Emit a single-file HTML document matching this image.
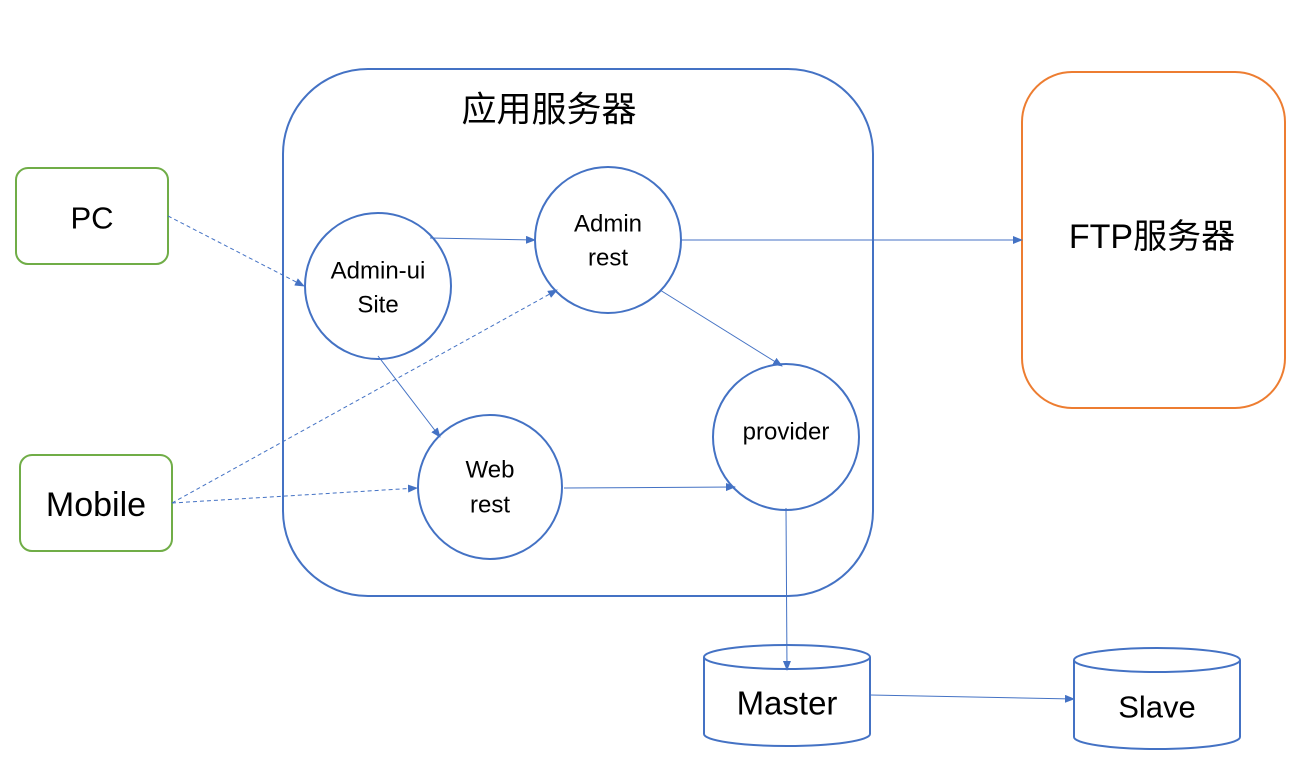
<!DOCTYPE html>
<html><head><meta charset="utf-8"><style>
html,body{margin:0;padding:0;background:#fff;}
svg{display:block;}
text{font-family:"Liberation Sans","Noto Sans CJK SC",sans-serif;fill:#000;text-anchor:middle;dominant-baseline:central;}
</style></head><body>
<svg width="1302" height="770" viewBox="0 0 1302 770" xmlns="http://www.w3.org/2000/svg">
<defs>
<marker id="a" markerWidth="10" markerHeight="8" refX="9" refY="4" orient="auto" markerUnits="userSpaceOnUse">
<path d="M0,0 L10,4 L0,8 z" fill="#4472C4"/></marker>
</defs>
<g fill="none" stroke-width="2">
<rect x="283" y="69" width="590" height="527" rx="85" stroke="#4472C4"/>
<rect x="1022" y="72" width="263" height="336" rx="50" stroke="#ED7D31"/>
<rect x="16" y="168" width="152" height="96" rx="12" stroke="#70AD47"/>
<rect x="20" y="455" width="152" height="96" rx="12" stroke="#70AD47"/>
<circle cx="378" cy="286" r="73" stroke="#4472C4"/>
<circle cx="608" cy="240" r="73" stroke="#4472C4"/>
<circle cx="490" cy="487" r="72" stroke="#4472C4"/>
<circle cx="786" cy="437" r="73" stroke="#4472C4"/>
<path d="M704,657 L704,734 A83,12 0 0 0 870,734 L870,657" stroke="#4472C4"/>
<ellipse cx="787" cy="657" rx="83" ry="12" stroke="#4472C4"/>
<path d="M1074,660 L1074,737 A83,12 0 0 0 1240,737 L1240,660" stroke="#4472C4"/>
<ellipse cx="1157" cy="660" rx="83" ry="12" stroke="#4472C4"/>
</g>
<g fill="none" stroke="#4472C4" stroke-width="1">
<line x1="168" y1="216" x2="304" y2="286" stroke-dasharray="4,3" marker-end="url(#a)"/>
<line x1="172" y1="503" x2="557" y2="290" stroke-dasharray="4,3" marker-end="url(#a)"/>
<line x1="172" y1="503" x2="417" y2="488" stroke-dasharray="4,3" marker-end="url(#a)"/>
<line x1="430" y1="238" x2="535" y2="240" marker-end="url(#a)"/>
<line x1="682" y1="240" x2="1022" y2="240" marker-end="url(#a)"/>
<line x1="660" y1="290" x2="782" y2="366" marker-end="url(#a)"/>
<line x1="378" y1="356" x2="440" y2="437" marker-end="url(#a)"/>
<line x1="564" y1="488" x2="735" y2="487" marker-end="url(#a)"/>
<line x1="786" y1="508" x2="787" y2="670" marker-end="url(#a)"/>
<line x1="870" y1="695" x2="1074" y2="699" marker-end="url(#a)"/>
</g>
<text x="549" y="110" font-size="35">应用服务器</text>
<text x="1152" y="237" font-size="34">FTP服务器</text>
<text x="92" y="218" font-size="31">PC</text>
<text x="96" y="505" font-size="34">Mobile</text>
<text x="378" y="271" font-size="24">Admin-ui</text>
<text x="378" y="305" font-size="24">Site</text>
<text x="608" y="224" font-size="24">Admin</text>
<text x="608" y="258" font-size="24">rest</text>
<text x="490" y="470" font-size="24">Web</text>
<text x="490" y="505" font-size="24">rest</text>
<text x="786" y="432" font-size="24">provider</text>
<text x="787" y="703" font-size="33">Master</text>
<text x="1157" y="707" font-size="31">Slave</text>
</svg>
</body></html>
